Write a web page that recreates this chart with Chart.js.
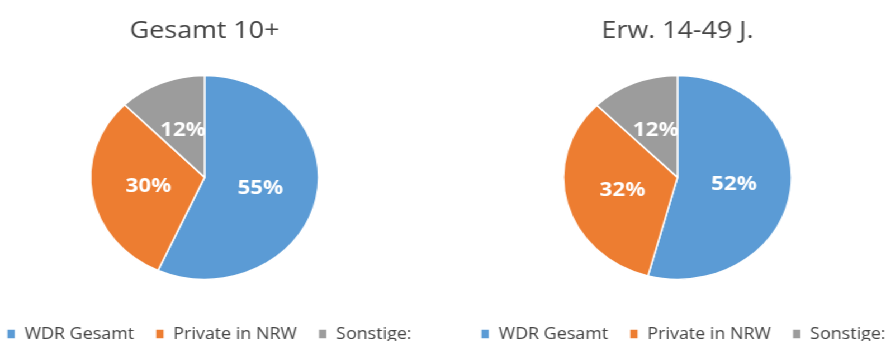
<!DOCTYPE html>
<html lang="de">
<head>
<meta charset="utf-8">
<title>Marktanteile NRW</title>
<script src="https://cdn.jsdelivr.net/npm/chart.js@4/dist/chart.umd.min.js"></script>
<style>
	html, body { margin: 0; padding: 0; background: #fff; overflow: hidden; }
	#wrap {
		position: relative;
		width: 792px;
		height: 352px;
		transform: scaleX(1.118);
		transform-origin: 0 0;
	}
	#wrap canvas { position: absolute; top: 0; }
	#chartLeft { left: -37px; }
	#chartRight { left: 386px; }
</style>
</head>
<body>
<div id="wrap">
	<canvas id="chartLeft" width="440" height="352"></canvas>
	<canvas id="chartRight" width="440" height="352"></canvas>
</div>
<script>
// Daten
const categories = ['WDR Gesamt', 'Private in NRW', 'Sonstige:'];
const gesamtValues = [55, 30, 12];
const erwValues = [52, 32, 12];
const chartTitles = ['Gesamt 10+', 'Erw. 14-49 J.'];
const sliceColors = ['#5B9BD5', '#ED7D31', '#9C9C9C'];

// Prozentwerte in die Segmente schreiben
const sliceLabels = {
	id: 'sliceLabels',
	afterDatasetsDraw(chart) {
		const ctx = chart.ctx;
		const meta = chart.getDatasetMeta(0);
		const values = chart.data.datasets[0].data;
		ctx.save();
		ctx.font = 'bold 20px "Open Sans", sans-serif';
		ctx.fillStyle = '#ffffff';
		ctx.textAlign = 'center';
		ctx.textBaseline = 'middle';
		meta.data.forEach(function (arc, i) {
			const pos = arc.tooltipPosition();
			ctx.fillText(values[i] + '%', pos.x, pos.y);
		});
		ctx.restore();
	}
};

// Legende etwas nach rechts schieben (sitzt nicht ganz mittig unter dem Kreis)
const legendShift = {
	id: 'legendShift',
	afterLayout(chart, args, opts) {
		chart.legend.left += opts.dx;
		chart.legend.right += opts.dx;
	}
};

function makePie(canvasId, title, values, dx) {
	return new Chart(document.getElementById(canvasId), {
		type: 'pie',
		data: {
			labels: categories,
			datasets: [{
				data: values,
				backgroundColor: sliceColors,
				borderColor: '#ffffff',
				borderWidth: 1.5,
				radius: 102
			}]
		},
		options: {
			responsive: false,
			animation: false,
			devicePixelRatio: 1,
			layout: { padding: 0 },
			plugins: {
				title: {
					display: true,
					text: title,
					color: '#444444',
					font: { family: '"Open Sans", sans-serif', size: 24, weight: 'normal' },
					padding: { top: 17, bottom: 2 }
				},
				legend: {
					position: 'bottom',
					labels: {
						color: '#444444',
						font: { family: '"Open Sans", sans-serif', size: 16 },
						boxWidth: 8,
						boxHeight: 10,
						padding: 19
					}
				},
				legendShift: { dx: dx },
				tooltip: { enabled: false }
			}
		},
		plugins: [sliceLabels, legendShift]
	});
}

makePie('chartLeft', chartTitles[0], gesamtValues, 4);
makePie('chartRight', chartTitles[1], erwValues, 5);
</script>
</body>
</html>
